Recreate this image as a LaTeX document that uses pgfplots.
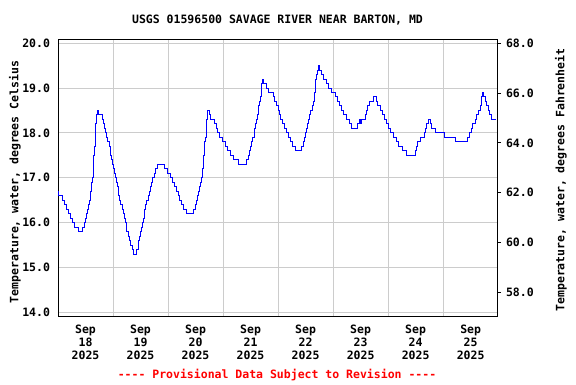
\documentclass[border=0pt]{standalone}
\usepackage{pgfplots}
\pgfplotsset{compat=1.18}
\usepackage{fontspec}
\setmainfont{DejaVu Sans Mono}[Ligatures=TeXOff]
\definecolor{usgsgrid}{RGB}{204,204,204}
\pgfplotstableread{
h C
0.0 16.7
0.3 16.6
2.0 16.5
2.9 16.4
3.8 16.3
4.7 16.2
5.5 16.1
6.4 16.0
7.3 15.9
9.0 15.8
10.8 15.9
11.4 16.0
11.9 16.1
12.5 16.2
12.8 16.3
13.4 16.4
13.7 16.5
14.0 16.6
14.3 16.7
14.6 16.8
14.8 16.9
15.1 17.0
15.4 17.1
15.6 17.3
15.7 17.5
16.0 17.7
16.3 18.0
16.5 18.2
16.6 18.3
16.8 18.4
17.2 18.5
17.8 18.4
19.2 18.3
19.8 18.2
20.5 18.1
20.9 18.0
21.3 17.9
21.8 17.8
22.3 17.7
22.7 17.6
23.0 17.5
23.3 17.4
23.9 17.3
24.2 17.2
24.5 17.1
25.0 17.0
25.5 16.9
25.9 16.8
26.2 16.7
26.4 16.6
26.8 16.5
27.4 16.4
28.2 16.3
28.5 16.2
28.8 16.1
29.4 16.0
29.7 15.9
30.0 15.8
30.8 15.7
31.3 15.6
31.7 15.5
32.3 15.4
32.9 15.3
34.4 15.4
34.9 15.5
35.3 15.6
35.7 15.7
36.1 15.8
36.5 15.9
36.9 16.0
37.3 16.1
37.6 16.2
37.9 16.3
38.3 16.4
38.7 16.5
39.3 16.6
39.9 16.7
40.5 16.8
40.9 16.9
41.3 17.0
41.9 17.1
42.5 17.2
43.6 17.3
46.3 17.2
47.6 17.1
49.0 17.0
50.0 16.9
50.9 16.8
51.8 16.7
52.4 16.6
53.0 16.5
53.8 16.4
54.7 16.3
56.0 16.2
59.3 16.3
60.0 16.4
60.5 16.5
61.0 16.6
61.4 16.7
61.8 16.8
62.2 16.9
62.6 17.0
63.1 17.2
63.4 17.5
64.0 17.8
64.3 17.9
64.6 18.1
64.9 18.3
65.2 18.5
66.2 18.4
66.6 18.3
68.2 18.2
69.0 18.1
69.5 18.0
70.4 17.9
71.6 17.8
73.0 17.7
73.9 17.6
75.4 17.5
76.5 17.4
78.9 17.3
82.2 17.4
83.0 17.5
83.6 17.6
84.1 17.7
84.6 17.8
85.0 17.9
85.5 18.0
85.8 18.1
86.1 18.2
86.5 18.3
86.9 18.4
87.3 18.5
87.6 18.6
88.0 18.7
88.4 18.8
88.6 19.0
88.8 19.1
89.2 19.2
89.8 19.1
91.1 19.0
91.8 18.9
94.0 18.8
94.6 18.7
95.4 18.6
96.0 18.5
96.6 18.4
97.2 18.3
98.0 18.2
98.9 18.1
99.8 18.0
100.7 17.9
101.5 17.8
102.4 17.7
103.6 17.6
106.3 17.7
107.2 17.8
107.7 17.9
108.0 18.0
108.4 18.1
108.8 18.2
109.1 18.3
109.7 18.4
110.3 18.5
110.8 18.6
111.4 18.7
111.8 18.8
112.0 18.9
112.3 19.0
112.5 19.2
112.7 19.3
113.0 19.4
113.7 19.5
114.2 19.4
114.8 19.3
115.6 19.2
117.3 19.1
118.2 19.0
119.4 18.9
121.0 18.8
121.9 18.7
122.8 18.6
123.7 18.5
124.6 18.4
126.0 18.3
127.0 18.2
127.9 18.1
130.6 18.2
131.5 18.3
132.0 18.2
132.6 18.3
134.0 18.4
134.6 18.5
135.2 18.6
136.0 18.7
137.7 18.8
138.8 18.7
139.4 18.6
140.5 18.5
141.6 18.4
142.4 18.3
143.1 18.2
144.0 18.1
145.2 18.0
146.3 17.9
147.8 17.8
148.6 17.7
150.3 17.6
152.0 17.5
155.8 17.6
156.3 17.7
156.9 17.8
158.2 17.9
159.7 18.0
160.3 18.1
160.7 18.2
161.7 18.3
162.3 18.2
162.8 18.1
164.8 18.0
168.5 17.9
173.4 17.8
178.5 17.9
179.3 18.0
180.2 18.1
181.0 18.2
181.9 18.3
182.7 18.4
183.5 18.5
184.3 18.6
184.6 18.7
184.9 18.8
185.2 18.9
185.5 18.8
186.3 18.7
187.0 18.6
187.7 18.5
188.4 18.4
189.1 18.3
190.9 18.3
}\temps
\newcommand{\usgsfont}{\fontsize{11.5bp}{12.8bp}\selectfont\bfseries}
\begin{document}
\usgsfont
\begin{tikzpicture}[x=1bp,y=1bp]
\path[use as bounding box] (0,0) rectangle (576,384);
\begin{axis}[
  at={(58bp,68bp)}, anchor=south west,
  scale only axis, width=439bp, height=276bp,
  xmin=0, xmax=191.5, ymin=13.92, ymax=20.07,
  /pgf/number format/assume math mode=true,
  xtick={12,36,...,180},
  xticklabels={{Sep\\18\\2025},{Sep\\19\\2025},{Sep\\20\\2025},{Sep\\21\\2025},{Sep\\22\\2025},{Sep\\23\\2025},{Sep\\24\\2025},{Sep\\25\\2025}},
  xticklabel style={align=center, font=\usgsfont, yshift=-5bp},
  minor xtick={24,48,...,168},
  xminorgrids, ymajorgrids,
  ytick={14,...,20}, ytick pos=left, xtick pos=bottom,
  major tick length=0pt, minor tick length=0pt,
  yticklabel style={font=\usgsfont, xshift=-4bp,
    /pgf/number format/fixed, /pgf/number format/fixed zerofill, /pgf/number format/precision=1},
  grid style={usgsgrid, line width=1bp},
  minor grid style={usgsgrid, line width=1bp},
  axis line style={black, line width=1bp},
]
\addplot[blue, line width=1bp, const plot] table[x=h, y=C] {\temps};
\end{axis}
\begin{axis}[
  at={(58bp,68bp)}, anchor=south west,
  scale only axis, width=439bp, height=276bp,
  xmin=0, xmax=191.5, ymin=57.056, ymax=68.126,
  /pgf/number format/assume math mode=true,
  axis x line=none, axis y line*=right,
  ytick={58,60,...,68}, tick align=outside, major tick length=4bp,
  ytick style={black, line width=1bp},
  axis line style={black, line width=1bp},
  yticklabel style={font=\usgsfont, xshift=1bp,
    /pgf/number format/fixed, /pgf/number format/fixed zerofill, /pgf/number format/precision=1},
]
\addplot[draw=none] coordinates {(0,60) (1,60)};
\end{axis}
\node at (277.5,364) {USGS 01596500 SAVAGE RIVER NEAR BARTON, MD};
\node[rotate=90] at (15,202) {Temperature, water, degrees Celsius};
\node[rotate=90] at (561,204) {Temperature, water, degrees Fahrenheit};
\node[red] at (277,9) {---- Provisional Data Subject to Revision ----};
\end{tikzpicture}
\end{document}
